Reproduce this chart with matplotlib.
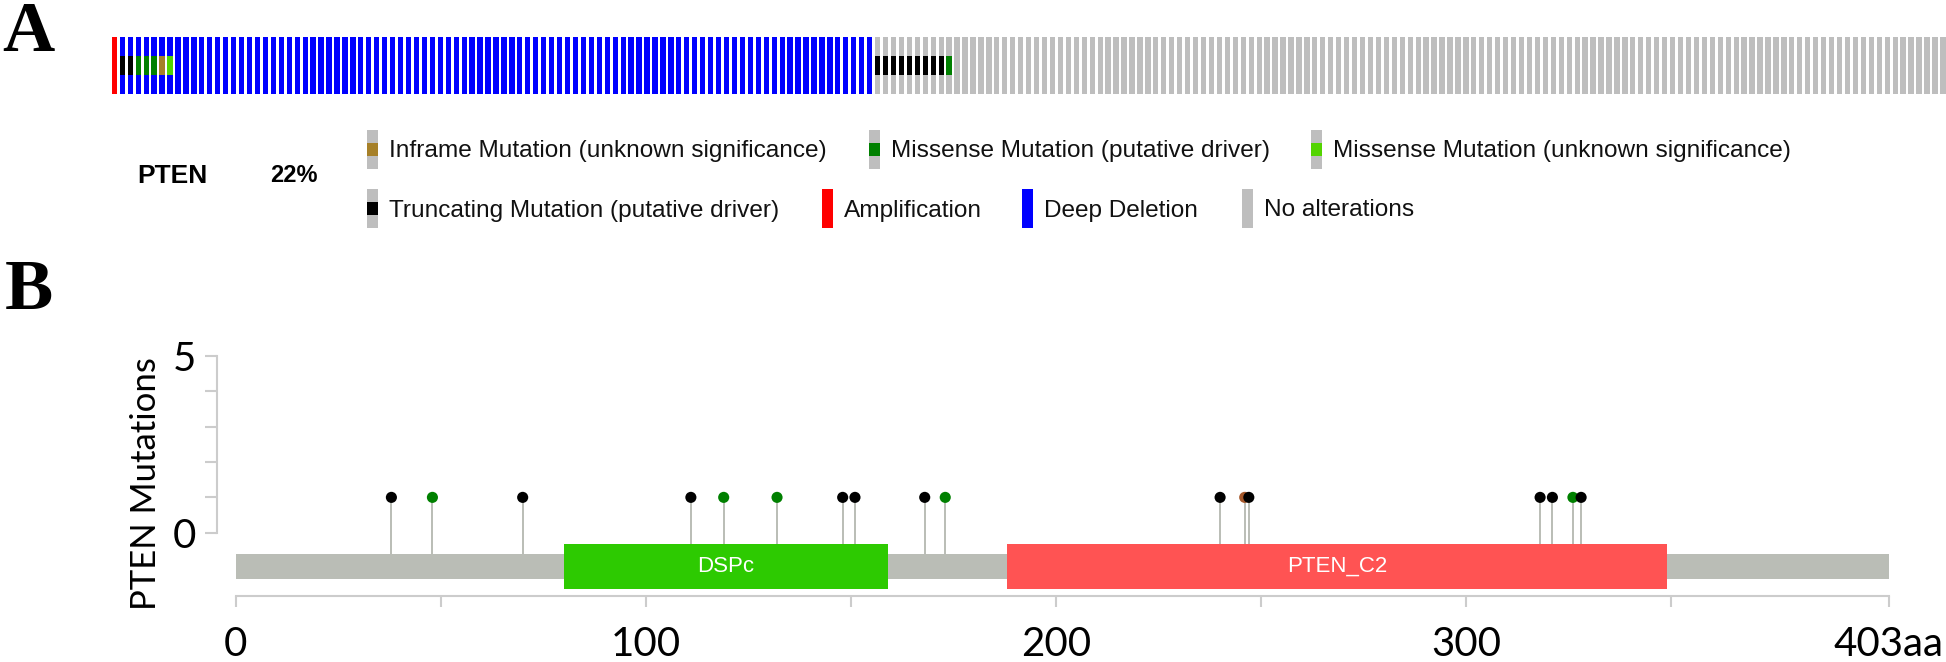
import matplotlib
matplotlib.use("Agg")
import matplotlib.pyplot as plt
from matplotlib.patches import Rectangle

plt.rcParams['font.family'] = ['Lato', 'DejaVu Sans']

# ---- panel A data: oncoprint, one column per sample ----
n_amp, n_deep, n_none = 1, 95, 135
cna_state = ['amp'] * n_amp + ['deep'] * n_deep + ['none'] * n_none
mut_samples = [1, 2, 3, 4, 5, 6, 7] + list(range(96, 105)) + [105]
mut_types = (['trunc', 'trunc', 'mis_drv', 'mis_drv', 'mis_drv', 'inframe', 'mis_vus']
             + ['trunc'] * 9 + ['mis_drv'])
gene = 'PTEN'
pct_altered = '22%'

cna_colors = {'amp': '#ff0000', 'deep': '#0000ff', 'none': '#bebebe'}
mut_colors = {'trunc': '#000000', 'mis_drv': '#008000', 'mis_vus': '#53d400',
              'inframe': '#a68028'}

legend_labels = ['Inframe Mutation (unknown significance)',
                 'Missense Mutation (putative driver)',
                 'Missense Mutation (unknown significance)',
                 'Truncating Mutation (putative driver)',
                 'Amplification', 'Deep Deletion', 'No alterations']
legend_keys = ['inframe', 'mis_drv', 'mis_vus', 'trunc', 'amp', 'deep', 'none']

# ---- panel B data: lollipop plot ----
mut_pos = [38, 48, 70, 111, 119, 132, 148, 151, 168, 173,
           240, 246, 247, 318, 321, 326, 328]
mut_count = [1] * 17
mut_kind = ['trunc', 'mis', 'trunc', 'trunc', 'mis', 'mis', 'trunc', 'trunc', 'trunc', 'mis',
            'trunc', 'inframe', 'trunc', 'trunc', 'trunc', 'mis', 'trunc']
protein_len = 403
domain_names = ['DSPc', 'PTEN_C2']
domain_start = [80, 188]
domain_end = [159, 349]
domain_colors = ['#2dca01', '#ff5353']
lolli_colors = {'trunc': '#000000', 'mis': '#008000', 'inframe': '#a5572a'}

W, H = 1946, 662
fig = plt.figure(figsize=(W / 100, H / 100), dpi=100)


def fx(px):
    return px / W


def fy(py):
    return 1 - py / H


# panel letters
for letter, xp, yp in [('A', 2, 51), ('B', 5, 309)]:
    fig.text(fx(xp), fy(yp), letter, family='Liberation Serif', weight='bold',
             fontsize=52, va='baseline', ha='left')

# ---- oncoprint ----
pitch = 7.95
axA = fig.add_axes([fx(111.7), fy(94), fx(W - 111.7), (94 - 36.7) / H])
idx = list(range(len(cna_state)))
axA.bar(idx, 1, width=0.667, align='edge', linewidth=0,
        color=[cna_colors[s] for s in cna_state])
axA.bar(mut_samples, 0.33, bottom=0.337, width=0.667, align='edge', linewidth=0,
        color=[mut_colors[t] for t in mut_types])
axA.set_xlim(0, (W - 111.7) / pitch)
axA.set_ylim(0, 1)
axA.axis('off')

# gene label + legend (overlay axes in pixel units)
lax = fig.add_axes([0, 0, 1, 1])
lax.set_xlim(0, W)
lax.set_ylim(H, 0)
lax.axis('off')
lax.text(137, 176, gene, family='Liberation Sans', weight='bold', fontsize=19,
         va='center', ha='left')
lax.text(270, 176, pct_altered, family='Liberation Sans', weight='bold', fontsize=17,
         va='center', ha='left')

leg_x = [367, 869, 1311, 367, 822, 1022, 1241.5]
leg_row = [0, 0, 0, 1, 1, 1, 1]
row_top = [130, 189]
mh = 39
for lab, key, x0, r in zip(legend_labels, legend_keys, leg_x, leg_row):
    y0 = row_top[r]
    if key in mut_colors:
        lax.add_patch(Rectangle((x0, y0), 11, mh, color=cna_colors['none'], lw=0))
        lax.add_patch(Rectangle((x0, y0 + mh / 3), 11, mh / 3, color=mut_colors[key], lw=0))
    else:
        lax.add_patch(Rectangle((x0, y0), 11, mh, color=cna_colors[key], lw=0))
    lax.text(x0 + 22, y0 + mh / 2 + 2, lab, family='Liberation Sans', fontsize=17.6,
             color='#111111', va='center', ha='left')

# ---- lollipop plot ----
aa_px = 4.1025
x0_px = 235.5
y0_px = 532.7
unit_px = 35.33
xl = (-6, 406)
yl = (-2.2, 5.2)
left = x0_px + xl[0] * aa_px
right = x0_px + xl[1] * aa_px
top = y0_px - yl[1] * unit_px
bottom = y0_px - yl[0] * unit_px
axB = fig.add_axes([fx(left), fy(bottom), fx(right - left), (bottom - top) / H])
axB.set_xlim(*xl)
axB.set_ylim(*yl)

stem_col = '#babdb6'
axB.vlines(mut_pos, -0.6, mut_count, color=stem_col, lw=1.4, zorder=1)
axB.scatter(mut_pos, mut_count, s=64, c=[lolli_colors[k] for k in mut_kind],
            linewidths=0, zorder=5)
axB.add_patch(Rectangle((0, -1.31), protein_len, 0.71, color=stem_col, lw=0, zorder=2))
for name, s, e, c in zip(domain_names, domain_start, domain_end, domain_colors):
    axB.add_patch(Rectangle((s, -1.58), e - s, 1.26, color=c, lw=0, zorder=3))
    axB.text((s + e) / 2, -0.95, name, family='Liberation Sans', fontsize=16,
             color='white', ha='center', va='center', zorder=4)

axis_col = '#cccccc'
for side in ['top', 'right']:
    axB.spines[side].set_visible(False)
axB.spines['left'].set_position(('data', -4.44))
axB.spines['left'].set_bounds(0, 5)
axB.spines['bottom'].set_position(('data', -1.79))
axB.spines['bottom'].set_bounds(0, protein_len)
for side in ['left', 'bottom']:
    axB.spines[side].set_color(axis_col)
    axB.spines[side].set_linewidth(1.5)

axB.set_xticks([0, 100, 200, 300, protein_len])
axB.set_xticklabels(['0', '100', '200', '300', f'{protein_len}aa'])
axB.set_xticks([50, 150, 250, 350], minor=True)
axB.set_yticks([0, 5])
axB.set_yticks([1, 2, 3, 4], minor=True)
axB.tick_params(axis='x', which='both', length=8, width=1.5, color=axis_col,
                pad=14, labelsize=29)
axB.tick_params(axis='y', which='both', length=8.9, width=1.5, color=axis_col,
                pad=6, labelsize=29)

fig.text(fx(145.5), fy(484), f'{gene} Mutations', rotation=90, fontsize=25,
         ha='center', va='center')

fig.savefig('out.png', dpi=100)
